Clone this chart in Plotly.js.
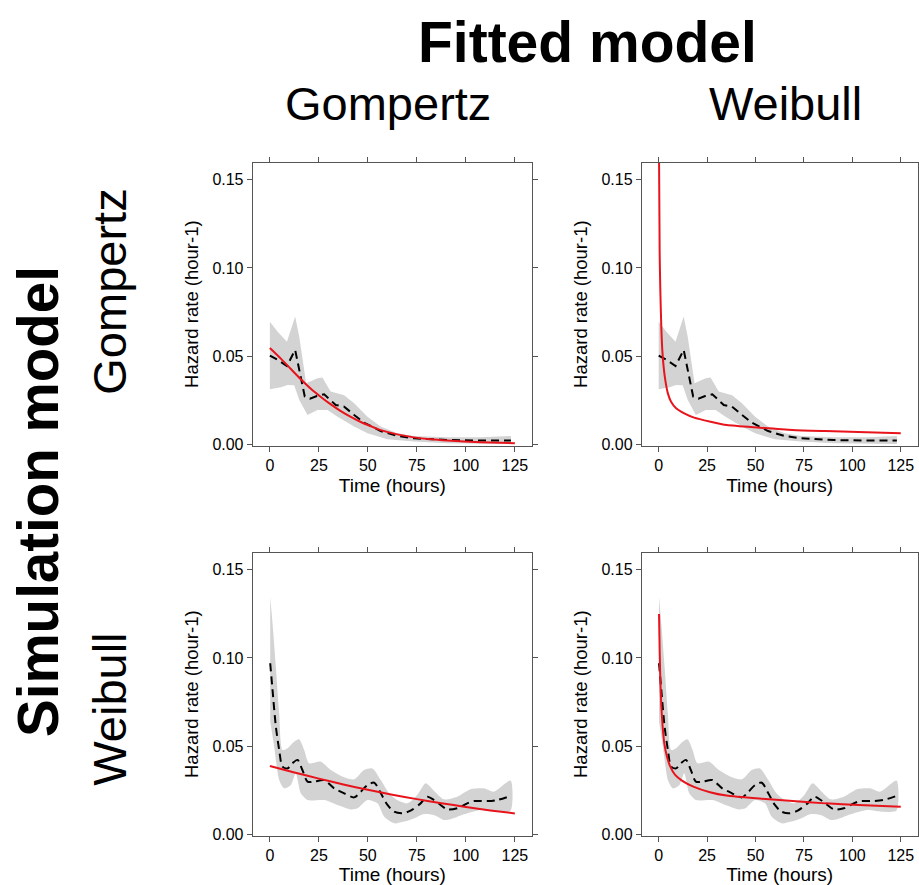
<!DOCTYPE html>
<html>
<head>
<meta charset="utf-8">
<script src="https://cdn.plot.ly/plotly-3.0.1.min.js"></script>
<style>html,body{margin:0;padding:0;background:#fff;}#chart{width:919px;height:885px;}</style>
</head>
<body>
<div id="chart"></div>
<script>
// ---- Column / row labels ----
const colTitle = "Fitted model";
const rowTitle = "Simulation model";
const colLabels = ["Gompertz", "Weibull"];
const rowLabels = ["Gompertz", "Weibull"];
const xTicks = [0, 25, 50, 75, 100, 125];
const yTicks = [0.00, 0.05, 0.10, 0.15];

// ---- Gompertz-simulated data: empirical hazard (dashed) ----
const gTime = [0, 4, 8.7, 12.9, 17.8, 20.5, 24, 27.7, 33.6, 37.9, 43, 48, 56.5, 65, 73.5, 90.5, 107.5, 123];
const gHaz  = [0.0504, 0.048, 0.0445, 0.0536, 0.0272, 0.026, 0.0275, 0.0285, 0.0224, 0.0215, 0.0168, 0.0125, 0.0077, 0.0049, 0.0036, 0.0026, 0.0023, 0.0023];
// confidence band
const gUpX = [0, 3.9, 8.7, 12.9, 15, 18.5, 24.3, 26.8, 31, 37.9, 43, 49.8, 56.5, 65, 73.5, 90.5, 107.5, 123];
const gUpY = [0.0696, 0.064, 0.0583, 0.0725, 0.061, 0.0347, 0.0375, 0.038, 0.030, 0.028, 0.0234, 0.0158, 0.0102, 0.0064, 0.0049, 0.0042, 0.0042, 0.0049];
const gLoX = [0, 5.6, 9, 12.4, 15, 19.2, 24.3, 29.4, 34.5, 43, 49.8, 60, 73.5, 90.5, 107.5, 123];
const gLoY = [0.0313, 0.0325, 0.0338, 0.0336, 0.0253, 0.0168, 0.0196, 0.0196, 0.0158, 0.0102, 0.0064, 0.003, 0.0017, 0.0008, 0.0004, 0.0004];

// ---- Weibull-simulated data: empirical hazard (dashed) ----
const wTime = [0.17, 1.36, 3.06, 4.75, 6.45, 9, 11.5, 14.1, 16.6, 19.2, 22.6, 27.7, 32.8, 37.9, 43, 46.4, 49.8, 53.2, 56.6, 60, 63.4, 67.6, 71.8, 76.9, 80.3, 83.7, 87.1, 90.5, 95.6, 100.7, 104.1, 110.9, 116, 122.8];
const wHaz  = [0.097, 0.0819, 0.0611, 0.0479, 0.0385, 0.0375, 0.0404, 0.0423, 0.0366, 0.030, 0.030, 0.0309, 0.0262, 0.0234, 0.0211, 0.0243, 0.0281, 0.0294, 0.0234, 0.0168, 0.013, 0.0121, 0.0136, 0.0177, 0.0215, 0.0196, 0.0168, 0.0143, 0.0149, 0.0177, 0.019, 0.019, 0.0196, 0.0219];
const wUpX = [0.17, 1.36, 3.06, 4.75, 6.45, 9, 12.4, 14.9, 17.5, 20, 26, 31.1, 37.9, 43, 48, 52.3, 56.6, 60.8, 65, 70.1, 75.2, 79.5, 83.7, 88.8, 95.6, 102.4, 109.2, 114.3, 122.8];
const wUpY = [0.1347, 0.1196, 0.0951, 0.0687, 0.0479, 0.0489, 0.0526, 0.054, 0.0479, 0.0404, 0.0413, 0.0366, 0.0325, 0.0313, 0.0366, 0.0375, 0.0309, 0.0234, 0.0196, 0.0177, 0.0225, 0.0291, 0.0249, 0.020, 0.0215, 0.0257, 0.0262, 0.0243, 0.0306];
const wLoX = [0.17, 2.2, 4.75, 7.3, 10.7, 13.2, 15.8, 19.2, 27.7, 34.5, 41.3, 44.7, 49.8, 54.9, 58.3, 63.4, 68.4, 73.5, 78.6, 83.7, 88.8, 92.2, 99, 107.5, 116, 122.8];
const wLoY = [0.064, 0.0498, 0.0309, 0.0262, 0.0281, 0.0347, 0.0234, 0.0196, 0.0196, 0.0168, 0.0143, 0.0149, 0.0196, 0.0177, 0.0102, 0.0064, 0.0074, 0.0092, 0.0117, 0.0111, 0.0083, 0.0087, 0.0115, 0.014, 0.013, 0.0136];

// ---- Fitted hazards (red) ----
const fitGG_x = [0, 5.6, 10.7, 15.8, 20.9, 26, 31.1, 36.2, 41.3, 46.4, 51.5, 56.6, 65, 73.5, 82, 90.5, 107.5, 125];
const fitGG_y = [0.0547, 0.0487, 0.0428, 0.0370, 0.0316, 0.0270, 0.0228, 0.0190, 0.0157, 0.0128, 0.0104, 0.0082, 0.0058, 0.0041, 0.003, 0.0023, 0.0014, 0.0008];
const fitGW_x = [0.2, 0.5, 0.85, 1.35, 1.86, 2.54, 3.39, 4.74, 6.4, 9, 13.2, 18.3, 26.8, 35.2, 52.2, 69.1, 86, 103, 125];
const fitGW_y = [0.16, 0.109, 0.0875, 0.0668, 0.0536, 0.0442, 0.0366, 0.029, 0.0243, 0.0206, 0.0177, 0.0153, 0.013, 0.0111, 0.0096, 0.0083, 0.0077, 0.0072, 0.0064];
const fitWG_x = [0, 12.5, 25, 37.5, 50, 62.5, 75, 87.5, 100, 112.5, 125];
const fitWG_y = [0.0389, 0.0352, 0.0317, 0.0284, 0.0254, 0.0226, 0.0201, 0.0178, 0.0157, 0.0137, 0.0120];
const fitWW_x = [0.17, 0.5, 0.85, 1.37, 2.05, 2.9, 4.27, 5.98, 8.5, 12, 17.9, 26.5, 35, 52, 69.2, 86.2, 103.3, 125];
const fitWW_y = [0.1249, 0.1045, 0.0875, 0.0725, 0.0611, 0.0517, 0.0442, 0.0385, 0.0338, 0.0306, 0.0272, 0.024, 0.0221, 0.0204, 0.0191, 0.0177, 0.0168, 0.0158];

const FONT = "Liberation Sans, Arial, Helvetica, sans-serif";
const BAND = "#d3d3d3";
const RED = "#e8141c";
const FRAME = "#555555";

function bandTrace(ux, uy, lx, ly, xa, ya, smooth) {
  return {
    x: ux.concat(lx.slice().reverse()),
    y: uy.concat(ly.slice().reverse()),
    xaxis: xa, yaxis: ya, type: "scatter", mode: "lines",
    fill: "toself", fillcolor: BAND,
    line: smooth ? {width: 0, color: BAND, shape: "spline", smoothing: 0.7} : {width: 0, color: BAND},
    hoverinfo: "skip", showlegend: false
  };
}
function dashTrace(x, y, xa, ya, smooth) {
  const ln = {color: "#000", width: 2, dash: "8px,5px"};
  if (smooth) { ln.shape = "spline"; ln.smoothing = 0.8; }
  return {x: x, y: y, xaxis: xa, yaxis: ya, type: "scatter", mode: "lines",
    line: ln, showlegend: false};
}
function redTrace(x, y, xa, ya) {
  return {x: x, y: y, xaxis: xa, yaxis: ya, type: "scatter", mode: "lines",
    line: {color: RED, width: 2, shape: "spline", smoothing: 0.6}, showlegend: false};
}

const data = [
  bandTrace(gUpX, gUpY, gLoX, gLoY, "x", "y", false),
  dashTrace(gTime, gHaz, "x", "y", false),
  redTrace(fitGG_x, fitGG_y, "x", "y"),

  bandTrace(gUpX, gUpY, gLoX, gLoY, "x2", "y2", false),
  dashTrace(gTime, gHaz, "x2", "y2", false),
  redTrace(fitGW_x, fitGW_y, "x2", "y2"),

  bandTrace(wUpX, wUpY, wLoX, wLoY, "x3", "y3", true),
  dashTrace(wTime, wHaz, "x3", "y3", true),
  redTrace(fitWG_x, fitWG_y, "x3", "y3"),

  bandTrace(wUpX, wUpY, wLoX, wLoY, "x4", "y4", true),
  dashTrace(wTime, wHaz, "x4", "y4", true),
  redTrace(fitWW_x, fitWW_y, "x4", "y4")
];

const colDom = [[0.2750, 0.5789], [0.6983, 0.9986]];
const rowDom = [[0.4964, 0.8162], [0.0557, 0.3755]];

function xAxis(dom, anchor) {
  return {
    domain: dom, anchor: anchor, range: [-8.75, 133.75],
    tickmode: "array", tickvals: xTicks, ticktext: xTicks.map(String),
    ticks: "outside", ticklen: 5, tickwidth: 1, tickcolor: FRAME,
    showline: true, linecolor: FRAME, linewidth: 1, mirror: "allticks",
    showgrid: false, zeroline: false,
    tickfont: {family: FONT, size: 16, color: "#000"},
    title: {text: "Time (hours)", font: {family: FONT, size: 19, color: "#000"}, standoff: 5}
  };
}
function yAxis(dom, anchor) {
  return {
    domain: dom, anchor: anchor, range: [-0.0006, 0.1596],
    tickmode: "array", tickvals: yTicks, ticktext: yTicks.map(v => v.toFixed(2)),
    ticks: "outside", ticklen: 5, tickwidth: 1, tickcolor: FRAME,
    showline: true, linecolor: FRAME, linewidth: 1, mirror: "allticks",
    showgrid: false, zeroline: false,
    tickfont: {family: FONT, size: 16, color: "#000"},
    title: {text: "Hazard rate (hour-1)", font: {family: FONT, size: 18.5, color: "#000"}, standoff: 8}
  };
}

const layout = {
  width: 919, height: 885,
  margin: {l: 0, r: 0, t: 0, b: 0},
  paper_bgcolor: "#fff", plot_bgcolor: "#fff",
  showlegend: false,
  font: {family: FONT, color: "#000"},
  xaxis: xAxis(colDom[0], "y"),
  yaxis: yAxis(rowDom[0], "x"),
  xaxis2: xAxis(colDom[1], "y2"),
  yaxis2: yAxis(rowDom[0], "x2"),
  xaxis3: xAxis(colDom[0], "y3"),
  yaxis3: yAxis(rowDom[1], "x3"),
  xaxis4: xAxis(colDom[1], "y4"),
  yaxis4: yAxis(rowDom[1], "x4"),
  annotations: [
    {text: "<b>" + colTitle + "</b>", xref: "paper", yref: "paper", x: 587.5/919, y: 1 - 42.3/885,
     xanchor: "center", yanchor: "middle", showarrow: false, font: {family: FONT, size: 57, color: "#000"}},
    {text: colLabels[0], xref: "paper", yref: "paper", x: 387.5/919, y: 1 - 103.7/885,
     xanchor: "center", yanchor: "middle", showarrow: false, font: {family: FONT, size: 47, color: "#000"}},
    {text: colLabels[1], xref: "paper", yref: "paper", x: 785/919, y: 1 - 103.7/885,
     xanchor: "center", yanchor: "middle", showarrow: false, font: {family: FONT, size: 47, color: "#000"}},
    {text: "<b>" + rowTitle + "</b>", xref: "paper", yref: "paper", x: 38/919, y: 1 - 502/885,
     xanchor: "center", yanchor: "middle", textangle: -90, showarrow: false, font: {family: FONT, size: 56.5, color: "#000"}},
    {text: rowLabels[0], xref: "paper", yref: "paper", x: 108.7/919, y: 1 - 292/885,
     xanchor: "center", yanchor: "middle", textangle: -90, showarrow: false, font: {family: FONT, size: 47, color: "#000"}},
    {text: rowLabels[1], xref: "paper", yref: "paper", x: 108.7/919, y: 1 - 709/885,
     xanchor: "center", yanchor: "middle", textangle: -90, showarrow: false, font: {family: FONT, size: 47, color: "#000"}}
  ]
};

Plotly.newPlot("chart", data, layout, {displayModeBar: false, staticPlot: true});
</script>
</body>
</html>
